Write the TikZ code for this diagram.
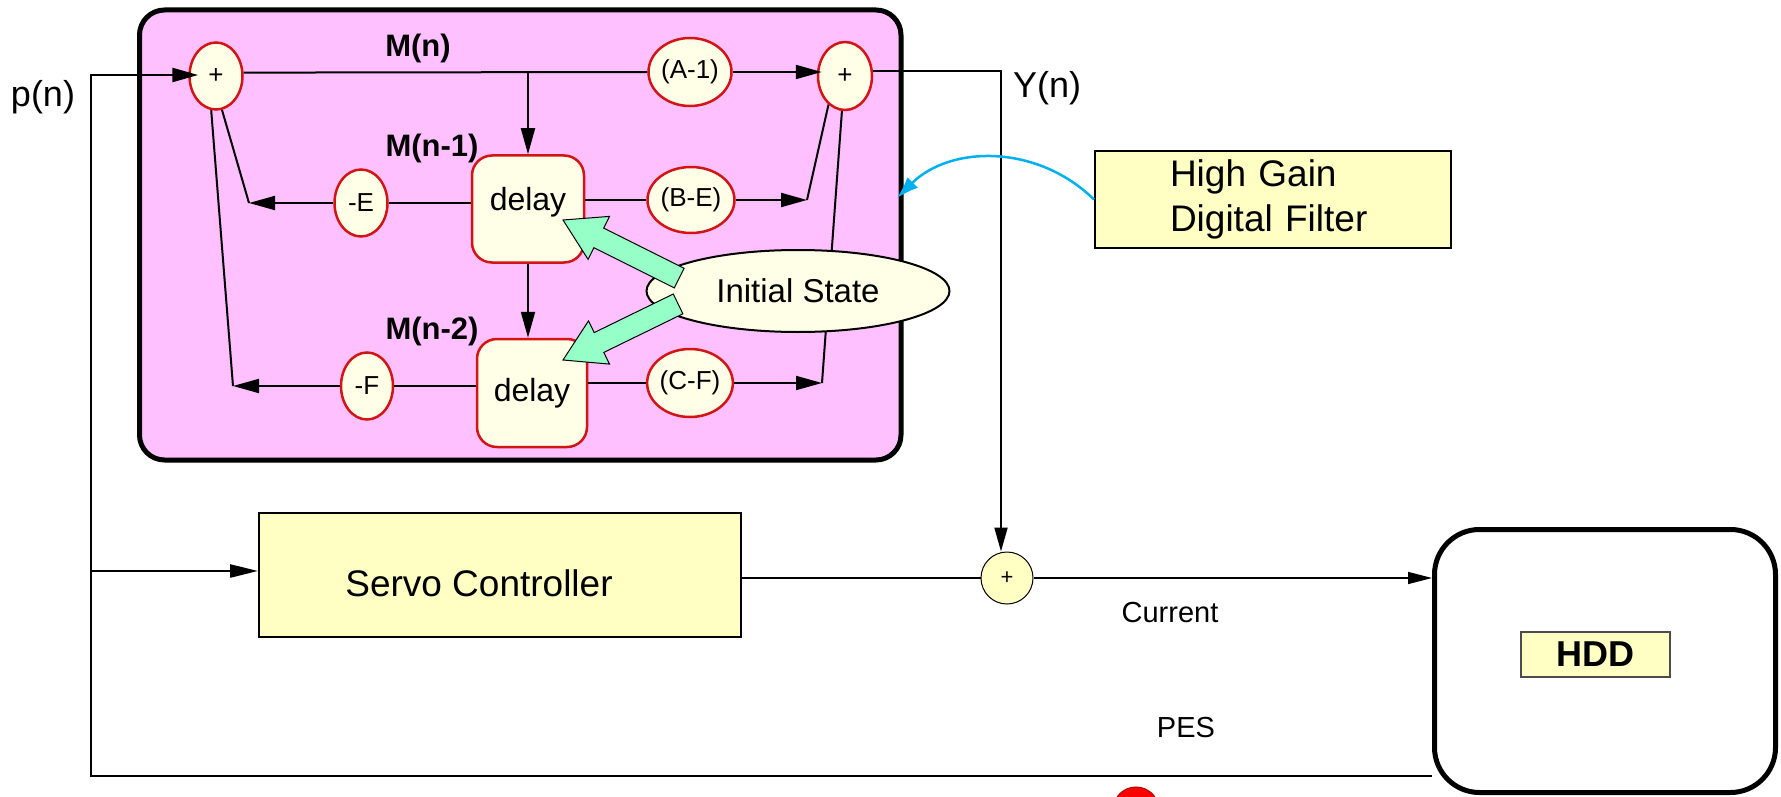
\documentclass[tikz,border=0pt]{standalone}
\usepackage{fontspec}
\setmainfont{Liberation Sans}
\usetikzlibrary{shapes.geometric,arrows.meta}
\newcommand\fsz[1]{\fontsize{#1}{#1}\selectfont}
\definecolor{pinkc}{RGB}{255,192,255}
\definecolor{redc}{RGB}{210,20,20}
\definecolor{ivoryc}{RGB}{255,255,232}
\definecolor{paleyel}{RGB}{255,255,196}
\definecolor{mintc}{RGB}{150,255,200}
\definecolor{skyb}{RGB}{0,176,240}
\begin{document}
\begin{tikzpicture}[x=1pt,y=-1pt,
  ln/.style={line width=2pt},
  arr/.style={line width=2pt,-{Triangle[length=26pt,width=14pt]}},
  gain/.style={ellipse,draw=redc,line width=2.5pt,fill=ivoryc,inner sep=0pt,font=\fsz{26}},
  delaybox/.style={rectangle,rounded corners=20pt,draw=redc,line width=2.5pt,fill=ivoryc,inner sep=0pt,font=\fsz{32}},
  sig/.style={font=\bfseries\fsz{31}},
  plain/.style={font=\fsz{36}},
  greenarr/.style={fill=mintc,draw=black,line width=1pt},
  yelbox/.style={rectangle,fill=paleyel,draw=black,line width=2pt,inner sep=0pt}
]
\useasboundingbox (0,0) rectangle (1781,797);

% filter block background
\node[rectangle,rounded corners=25pt,draw=black,line width=5pt,fill=pinkc,minimum width=761.5pt,minimum height=450pt] (pink) at (520.25,235) {};

% gains and delays
\node[gain,minimum width=53pt,minimum height=67pt] (s1) at (216,76) {+};
\node[gain,minimum width=83pt,minimum height=68pt] (am1) at (690,72) {(A-1)};
\node[gain,minimum width=54pt,minimum height=68pt] (s2) at (845,76) {+};
\node[gain,minimum width=53pt,minimum height=67pt] (me) at (361,203) {-E};
\node[delaybox,minimum width=112pt,minimum height=107pt,text depth=20pt] (d1) at (528,209) {delay};
\node[gain,minimum width=87pt,minimum height=66pt] (be) at (691,200) {(B-E)};
\node[gain,minimum width=52pt,minimum height=67pt] (mf) at (367,386) {-F};
\node[delaybox,minimum width=110pt,minimum height=108pt] (d2) at (532,393) {delay};
\node[gain,minimum width=85pt,minimum height=68pt] (cf) at (690,383) {(C-F)};

\node[sig] (lmn) at (418,48) {M(n)};
\node[sig] (lmn1) at (432,148) {M(n-1)};
\node[sig] (lmn2) at (432,331) {M(n-2)};

% outside nodes
\node[plain] (pn) at (43,97) {p(n)};
\node[plain] (yn) at (1047,88) {Y(n)};
\node[yelbox,minimum width=356pt,minimum height=97pt,text width=206pt,align=left,font=\fontsize{37}{45}\selectfont] (hg) at (1273,199.5) {High Gain\\Digital Filter};
\node[yelbox,minimum width=482pt,minimum height=124pt] (servo) at (500,575) {};
\node[font=\fsz{37}] (servotxt) at (479,583) {Servo Controller};
\node[circle,draw=black,line width=1pt,fill=paleyel,minimum size=52pt,inner sep=0pt,font=\fsz{22}] (s3) at (1007,578) {+};
\node[rectangle,rounded corners=45pt,draw=black,line width=5pt,fill=white,minimum width=341pt,minimum height=263pt] (hdd) at (1605,661) {};
\node[rectangle,draw=black!70,line width=1.5pt,fill=paleyel,minimum width=149pt,minimum height=45pt,inner sep=0pt,font=\bfseries\fsz{36}] (hddl) at (1595.5,654.5) {HDD};
\node[font=\fsz{29}] (cur) at (1170,613) {Current};
\node[font=\fsz{29}] (pes) at (1186,728) {PES};

% free ends
\coordinate (pl) at (91,75);
\coordinate (ps) at (91,571);
\coordinate (pb) at (91,776);
\coordinate (ce) at (249,203);
\coordinate (cfn) at (233,386);
\coordinate (cbe) at (807,200);
\coordinate (ccf) at (822,383);
\coordinate (yc) at (1001,70);
\coordinate (bluetip) at (897,198);

% feedback and input
\draw[line width=2.5pt,-{Triangle[length=26pt,width=14pt]},shorten >=-10pt] (hdd.west |- pb) -- (pb) -- (pl) -- (pl -| s1.west);
\draw[line width=2.5pt,-{Triangle[length=28pt,width=13pt]}] (ps) -- (ps -| servo.west);

% filter internals
\draw[ln] (s1.7) -- (am1.west);
\draw[arr,shorten >=-5pt] (am1.east) -- (am1.east -| s2.west);
\draw[arr] (d1.north |- am1.west) -- (d1.north);
\draw[ln] (d1.west |- me.east) -- (me.east);
\draw[arr] (me.west) -- (ce);
\draw[ln] (ce) -- (s1.280);
\draw[ln] (d2.west |- mf.east) -- (mf.east);
\draw[arr] (mf.west) -- (cfn);
\draw[ln] (cfn) -- (s1.262);
\draw[arr] (d1.south) -- (d1.south |- d2.north);
\draw[ln] (d1.east |- be.west) -- (be.west);
\draw[arr] (be.east) -- (cbe);
\draw[ln] (cbe) -- (s2.240);
\draw[ln] (d2.east |- cf.west) -- (cf.west);
\draw[arr] (cf.east) -- (ccf);
\draw[ln] (ccf) -- (s2.265);

% output path
\draw[line width=2pt,-{Triangle[length=24pt,width=13pt]}] (s2.10) -- (yc |- s2.10) -- (yc |- s3.north);
\draw[line width=1.2pt] (servo.east |- s3.west) -- (s3.west);
\draw[line width=1.5pt,-{Triangle[length=24pt,width=12pt]}] (s3.east) -- (hdd.west |- s3.east);
\draw[skyb,line width=2.5pt,-{Latex[length=22pt,width=15pt]}] (hg.west) .. controls (1038,144.5) and (951,144.5) .. (bluetip);

% initial state
\node[ellipse,draw=black,line width=2pt,fill=ivoryc,minimum width=303pt,minimum height=82pt,inner sep=0pt,font=\fsz{33}] (init) at (798,291) {Initial State};
\draw[greenarr] (563,220) -- (609.5,216.4) -- (603.7,228.1) -- (684.1,268.3) -- (674.3,287.9) -- (593.9,247.7) -- (588.1,259.4) -- cycle;
\draw[greenarr] (563,360) -- (588.5,320.9) -- (594.2,332.6) -- (673.3,294.0) -- (682.9,313.8) -- (603.8,352.4) -- (609.5,364.1) -- cycle;

% red mark at bottom edge
\begin{scope}
\clip (0,0) rectangle (1781,797);
\fill[red,draw=red!70!black,line width=1pt] (1136,810) circle (23pt);
\end{scope}
\end{tikzpicture}
\end{document}
